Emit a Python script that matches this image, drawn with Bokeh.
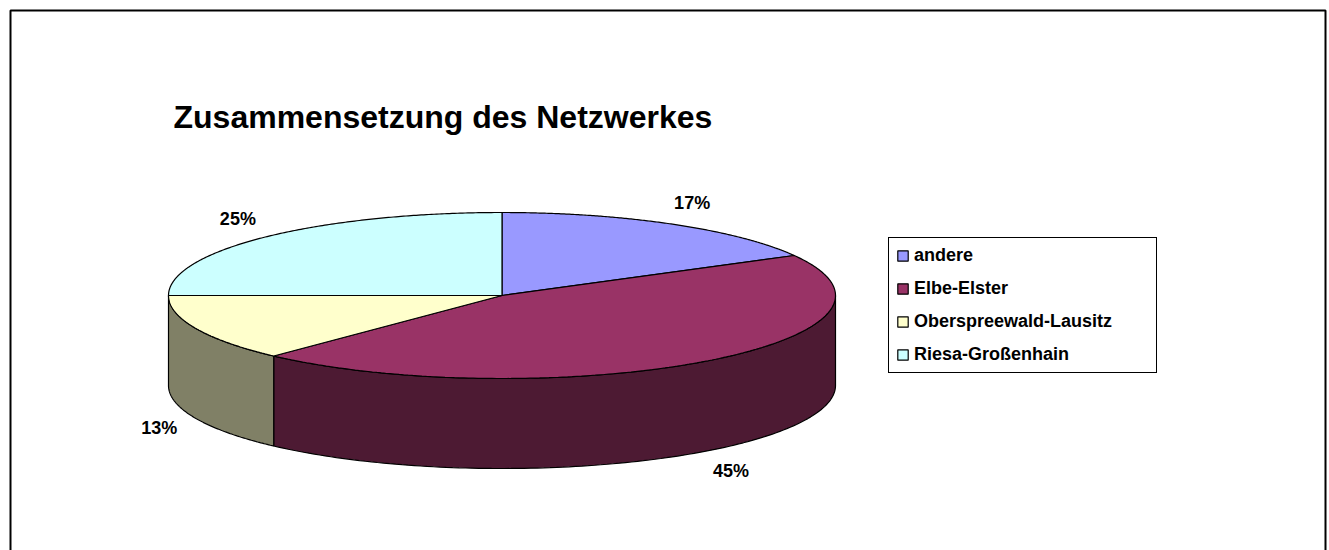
import numpy as np
from bokeh.plotting import figure
from bokeh.models import Range1d, Legend, LegendItem, BoxAnnotation
from bokeh.core.properties import value
from bokeh.embed import file_html
from bokeh.resources import INLINE

# ---- data ----
categories = ["andere", "Elbe-Elster", "Oberspreewald-Lausitz", "Riesa-Großenhain"]
shares = [17, 45, 13, 25]
pct_labels = ["17%", "45%", "13%", "25%"]
top_colors = ["#9999FF", "#993366", "#FFFFCC", "#CCFFFF"]
side_colors = ["#4D4D80", "#4D1A33", "#808066", "#668080"]
title_text = "Zusammensetzung des Netzwerkes"

# ---- layout parameters (pixels) ----
W, H = 1329, 550
CX, CY, RX, RY, DEPTH = 501.5, 295.0, 333.5, 83.0, 90.0
FONT = "Liberation Sans"

p = figure(width=W, height=H, x_range=Range1d(0, W), y_range=Range1d(H, 0),
           output_backend="svg", toolbar_location=None, min_border=0,
           x_axis_type=None, y_axis_type=None)
p.grid.visible = False
p.outline_line_color = None
p.background_fill_color = "white"
p.border_fill_color = "white"

# outer frame
p.add_layout(BoxAnnotation(left=10, right=1325, top=10, bottom=H + 20,
                           fill_alpha=0, line_color="black", line_alpha=1, line_width=2))


def ell(t, dy=0.0):
    return CX + RX * np.cos(np.radians(t)), CY - RY * np.sin(np.radians(t)) + dy


total = float(sum(shares))
cum = np.concatenate([[0], np.cumsum(shares)]) / total
starts = 90 - 360 * cum[:-1]
ends = 90 - 360 * cum[1:]

# side walls (front half only: angles in [-180, 0])
for i in range(len(shares)):
    lo = max(ends[i], -180.0)
    hi = min(starts[i], 0.0)
    if hi <= lo:
        continue
    t = np.linspace(lo, hi, 120)
    xt, yt = ell(t)
    xb, yb = ell(t[::-1], DEPTH)
    p.patch(np.concatenate([xt, xb]), np.concatenate([yt, yb]),
            fill_color=side_colors[i], line_color="black", line_width=1.2)

# top faces
top_renderers = []
for i in range(len(shares)):
    t = np.linspace(starts[i], ends[i], 200)
    xs, ys = ell(t)
    r = p.patch(np.concatenate([[CX], xs]), np.concatenate([[CY], ys]),
                fill_color=top_colors[i], line_color="black", line_width=1.2)
    top_renderers.append(r)

# percentage labels
mids = (starts + ends) / 2
lx = CX + 1.12 * RX * np.cos(np.radians(mids))
sn = np.sin(np.radians(mids))
ly = CY - 1.3 * RY * sn + np.where(sn < 0, DEPTH, 0)
p.text(x=lx, y=ly, text=pct_labels, text_font=value(FONT), text_font_style="bold",
       text_font_size="18px", text_align="center", text_baseline="middle", text_color="black")

# title
p.text(x=[173], y=[116], text=[title_text], text_font=value(FONT), text_font_style="bold",
       text_font_size="32px", text_align="left", text_baseline="alphabetic", text_color="black")

# legend
legend = Legend(items=[LegendItem(label=c, renderers=[r]) for c, r in zip(categories, top_renderers)],
                location=(888, H - 373), orientation="vertical",
                glyph_width=13, glyph_height=13, label_height=20, spacing=12,
                padding=7, label_standoff=5, label_width=235, margin=0,
                border_line_color="black", border_line_alpha=1, border_line_width=1.5,
                background_fill_color="white", background_fill_alpha=1,
                label_text_font=FONT, label_text_font_style="bold",
                label_text_font_size="18px", label_text_color="black")
p.add_layout(legend, "center")

open("out.html", "w").write(file_html(p, INLINE))
